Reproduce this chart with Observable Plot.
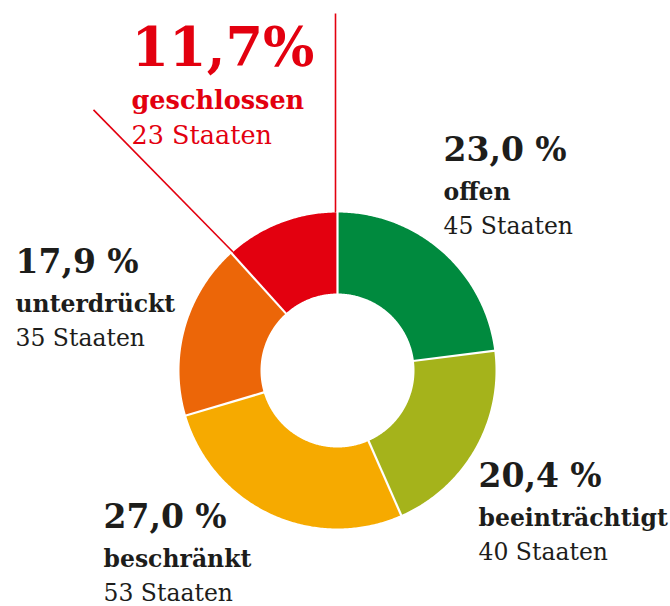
<!DOCTYPE html>
<html><head><meta charset="utf-8">
<script src="https://cdn.jsdelivr.net/npm/d3@7"></script>
<script src="https://cdn.jsdelivr.net/npm/@observablehq/plot@0.6"></script>
<style>body{margin:0;background:#fff} #chart{width:670px;height:606px}</style>
</head><body><div id="chart"></div>
<script>
// ---- data ----
const categories = ["offen", "beeinträchtigt", "beschränkt", "unterdrückt", "geschlossen"];
const shares = [23.0, 20.4, 27.0, 17.9, 11.7];
const states = [45, 40, 53, 35, 23];
const shareLabels = ["23,0 %", "20,4 %", "27,0 %", "17,9 %", "11,7%"];
const colors = ["#008a3e", "#a5b31b", "#f6aa00", "#ec6608", "#e3000f"];

// ---- layout ----
const W = 670, H = 606, cx = 337, cy = 370, R = 158, r0 = 77, leaderR = 357, leaderSkew = -0.023;
const highlight = "geschlossen";
const red = "#e3000f", dark = "#1d1d1b";
// label anchors (left edge, baseline of the percentage) relative to the donut centre
const labelAnchor = {
  "offen": [106, -210],
  "beeinträchtigt": [141, 116],
  "beschränkt": [-234, 157],
  "unterdrückt": [-322, -98],
  "geschlossen": [-206, -305]
};

const pie = d3.pie().sort(null).value(d => d)(shares);
const pt = (rad, a) => ({x: rad * Math.sin(a), y: -rad * Math.cos(a)});

const sliceRows = [];
pie.forEach((p, i) => {
  const n = Math.max(2, Math.ceil((p.endAngle - p.startAngle) / 0.01));
  for (let k = 0; k <= n; k++) {
    const a = p.startAngle + (p.endAngle - p.startAngle) * k / n;
    sliceRows.push({category: categories[i], ...pt(R, a)});
  }
  for (let k = n; k >= 0; k--) {
    const a = p.startAngle + (p.endAngle - p.startAngle) * k / n;
    sliceRows.push({category: categories[i], ...pt(r0, a)});
  }
});

const separators = pie.map(p => {
  const a = pt(r0 - 1, p.startAngle), b = pt(R + 1, p.startAngle);
  return {x1: a.x, y1: a.y, x2: b.x, y2: b.y};
});

const hi = pie[categories.indexOf(highlight)];
const leaders = [[hi.startAngle, 1, leaderSkew], [hi.endAngle, -1, 0]].map(([a, s, sk]) => {
  const ox = s * 2 * Math.cos(a), oy = s * 2 * Math.sin(a);
  const p1 = pt(R, a), p2 = pt(leaderR, a + sk);
  return {x1: p1.x + ox, y1: p1.y + oy, x2: p2.x + ox, y2: p2.y + oy};
});

const labelRows = categories.map((c, i) => ({
  category: c,
  x: labelAnchor[c][0], y: labelAnchor[c][1],
  share: shareLabels[i],
  states: `${states[i]} Staaten`
}));
const darkRows = labelRows.filter(d => d.category !== highlight);
const redRows = labelRows.filter(d => d.category === highlight);
const font = "DejaVu Serif";
const base = {x: "x", y: "y", textAnchor: "start", lineAnchor: "bottom", fontFamily: font};

const chart = Plot.plot({
  width: W, height: H, margin: 0,
  x: {domain: [-cx, W - cx], range: [0, W], axis: null},
  y: {domain: [-cy, H - cy], range: [0, H], axis: null},
  color: {domain: categories, range: colors},
  style: {background: "white"},
  marks: [
    Plot.link(leaders, {x1: "x1", y1: "y1", x2: "x2", y2: "y2", stroke: red, strokeWidth: 1.6}),
    Plot.line(sliceRows, {x: "x", y: "y", z: "category", fill: "category", stroke: "none", curve: "linear"}),
    Plot.link(separators, {x1: "x1", y1: "y1", x2: "x2", y2: "y2", stroke: "white", strokeWidth: 2.2}),
    Plot.text(darkRows, {...base, text: "share", fill: dark, fontSize: 33, fontWeight: "bold"}),
    Plot.text(darkRows, {...base, text: "category", fill: dark, fontSize: 23.5, fontWeight: "bold", dy: 39}),
    Plot.text(darkRows, {...base, text: "states", fill: dark, fontSize: 23.5, dy: 73}),
    Plot.text(redRows, {...base, text: "share", fill: red, fontSize: 54, fontWeight: "bold"}),
    Plot.text(redRows, {...base, text: "category", fill: red, fontSize: 25.5, fontWeight: "bold", dy: 43}),
    Plot.text(redRows, {...base, text: "states", fill: red, fontSize: 25.5, dy: 78})
  ]
});
document.getElementById("chart").appendChild(chart);
</script>
</body></html>
